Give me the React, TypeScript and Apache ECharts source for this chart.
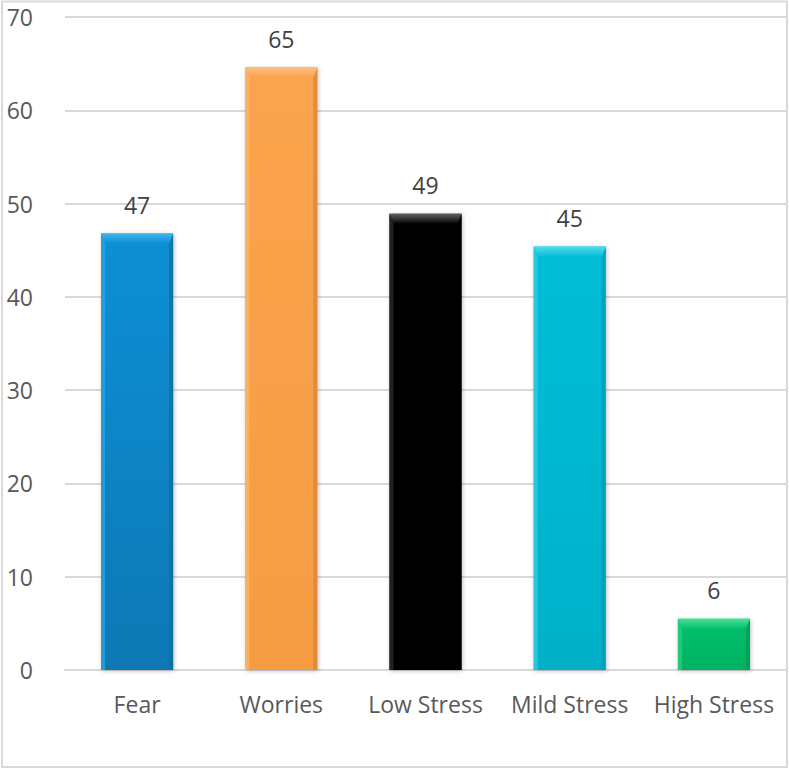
import React, { useEffect, useRef } from "react";
import * as echarts from "echarts";

const categories = ["Fear", "Worries", "Low Stress", "Mild Stress", "High Stress"];
const values = [46.8, 64.6, 48.9, 45.4, 5.5];
const yTicks = [0, 10, 20, 30, 40, 50, 60, 70];

const palette = [
  { main: "#0a90d6", top: "#45b4ec", light: "#2aa2e2", dark: "#06709f", bottom: "#0878b4" },
  { main: "#fba44e", top: "#fdc07e", light: "#fdb468", dark: "#dd8636", bottom: "#f59c42" },
  { main: "#030303", top: "#606060", light: "#2a2a2a", dark: "#000000", bottom: "#000000" },
  { main: "#05bdd7", top: "#55dcee", light: "#2fcde4", dark: "#039cb3", bottom: "#04b0c9" },
  { main: "#02c16b", top: "#4ddf98", light: "#26d181", dark: "#019a55", bottom: "#02b262" },
];

const FONT = "Open Sans";
const FS = 23;

export default function App() {
  const ref = useRef<HTMLDivElement>(null);
  useEffect(() => {
    document.body.style.margin = "0";
    const chart = echarts.init(ref.current!, undefined, { renderer: "svg" });
    const option: any = {
      animation: false,
      backgroundColor: "#ffffff",
      grid: { left: 65, right: 3, top: 17, bottom: 100, containLabel: false },
      xAxis: {
        type: "category",
        data: categories,
        axisLine: { show: true, lineStyle: { color: "#d9d9d9", width: 2 } },
        axisTick: { show: false },
        axisLabel: {
          color: "#595959",
          fontSize: FS,
          fontFamily: FONT,
          margin: 22,
          interval: 0,
          hideOverlap: false,
        },
      },
      yAxis: {
        type: "value",
        min: yTicks[0],
        max: yTicks[yTicks.length - 1],
        interval: 10,
        axisLine: { show: false },
        axisTick: { show: false },
        splitLine: { lineStyle: { color: "#d9d9d9", width: 2 } },
        axisLabel: { color: "#595959", fontSize: FS, fontFamily: FONT, margin: 32 },
      },
      graphic: [
        {
          type: "rect",
          shape: { x: 2, y: 1.5, width: 785, height: 765.5 },
          style: { fill: "none", stroke: "#d9d9d9", lineWidth: 2 },
          silent: true,
        },
      ],
      series: [
        {
          type: "custom",
          data: values.map((v, i) => [i, v]),
          encode: { x: 0, y: 1 },
          renderItem: (params: any, api: any) => {
            const idx = api.value(0);
            const val = api.value(1);
            const topPt = api.coord([idx, val]);
            const basePt = api.coord([idx, 0]);
            const bw = api.size([1, 0])[0] * 0.5;
            const x0 = topPt[0] - bw / 2;
            const x1 = topPt[0] + bw / 2;
            const y0 = topPt[1];
            const y1 = basePt[1];
            const c = palette[idx];
            const b = Math.min(10, (y1 - y0) / 2);
            const s = 4;
            return {
              type: "group",
              children: [
                {
                  type: "rect",
                  shape: { x: x0, y: y0, width: bw, height: y1 - y0 },
                  style: {
                    fill: new echarts.graphic.LinearGradient(0, 0, 0, 1, [
                      { offset: 0, color: c.main },
                      { offset: 1, color: c.bottom },
                    ]),
                    shadowBlur: 4,
                    shadowColor: "rgba(0,0,0,0.25)",
                    shadowOffsetX: 1,
                    shadowOffsetY: 1,
                  },
                },
                {
                  type: "polygon",
                  shape: { points: [[x0, y0], [x0 + s, y0 + b], [x0 + s, y1], [x0, y1]] },
                  style: { fill: c.light, opacity: 0.8 },
                },
                {
                  type: "polygon",
                  shape: { points: [[x1, y0], [x1, y1], [x1 - s, y1], [x1 - s, y0 + b]] },
                  style: { fill: c.dark, opacity: 0.8 },
                },
                {
                  type: "polygon",
                  shape: { points: [[x0, y0], [x1, y0], [x1 - s, y0 + b], [x0 + s, y0 + b]] },
                  style: {
                    fill: new echarts.graphic.LinearGradient(0, 0, 0, 1, [
                      { offset: 0, color: c.top },
                      { offset: 1, color: c.main },
                    ]),
                  },
                },
                {
                  type: "text",
                  style: {
                    text: String(Math.round(val)),
                    x: topPt[0],
                    y: y0 - 17,
                    align: "center",
                    verticalAlign: "bottom",
                    fill: "#404040",
                    fontSize: FS,
                    fontFamily: FONT,
                  },
                },
              ],
            };
          },
        },
      ],
    };
    chart.setOption(option);
    return () => chart.dispose();
  }, []);
  return <div ref={ref} style={{ width: 789, height: 770 }} />;
}
